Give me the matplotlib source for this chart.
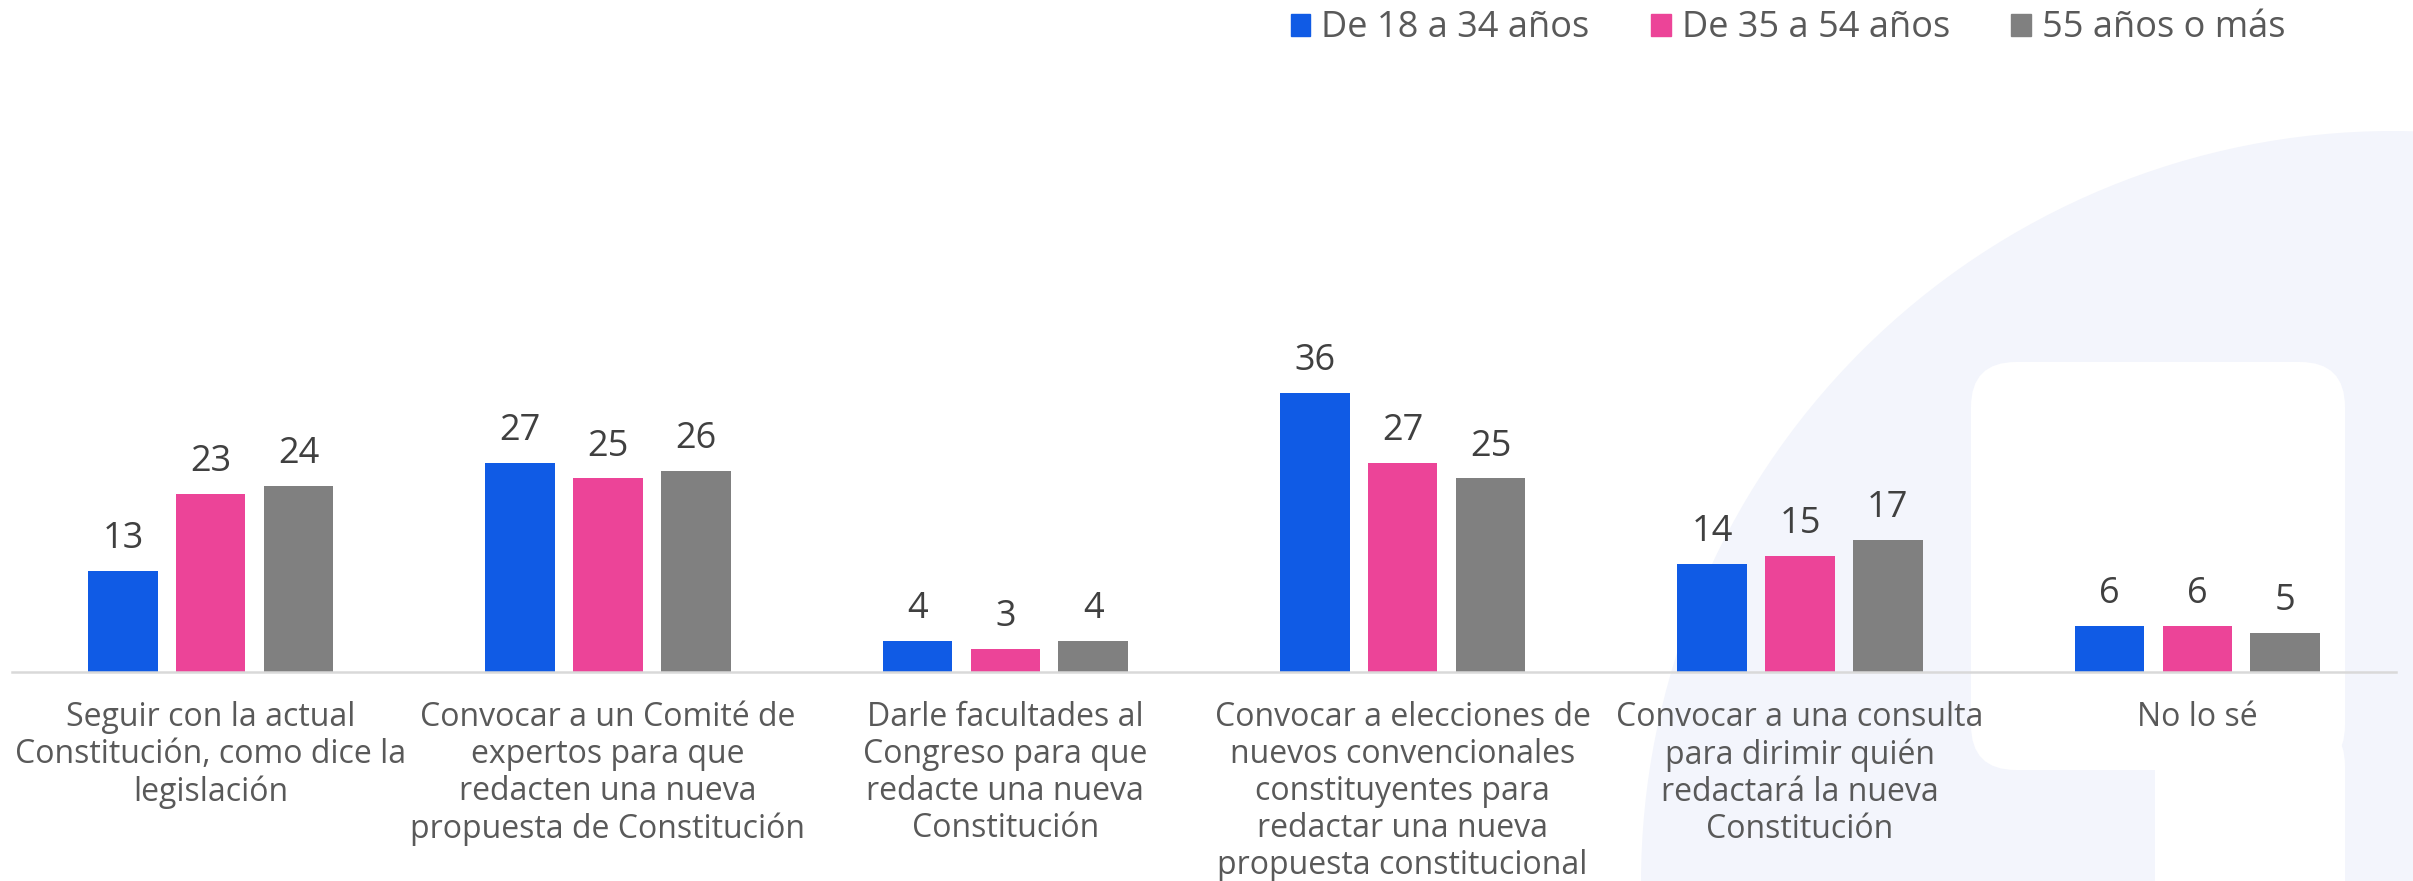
import numpy as np
import matplotlib.pyplot as plt
from matplotlib.patches import Circle, FancyBboxPatch, Rectangle

plt.rcParams['font.family'] = ['Open Sans', 'DejaVu Sans']

# ── Datos ──────────────────────────────────────────────────
categorias = [
    'Seguir con la actual\nConstitución, como dice la\nlegislación',
    'Convocar a un Comité de\nexpertos para que\nredacten una nueva\npropuesta de Constitución',
    'Darle facultades al\nCongreso para que\nredacte una nueva\nConstitución',
    'Convocar a elecciones de\nnuevos convencionales\nconstituyentes para\nredactar una nueva\npropuesta constitucional',
    'Convocar a una consulta\npara dirimir quién\nredactará la nueva\nConstitución',
    'No lo sé',
]
series = ['De 18 a 34 años', 'De 35 a 54 años', '55 años o más']
v_18_34 = [13, 27, 4, 36, 14, 6]
v_35_54 = [23, 25, 3, 27, 15, 6]
v_55_mas = [24, 26, 4, 25, 17, 5]

colores = ['#105BE5', '#EC4498', '#808080']
texto = '#404040'

W, H = 2413, 881
fig = plt.figure(figsize=(W / 100, H / 100), dpi=100)

# ── Logo de fondo ──────────────────────────────────────────
bg = fig.add_axes([0, 0, 1, 1], zorder=0)
bg.set_xlim(0, W)
bg.set_ylim(0, H)
bg.axis('off')
lavanda = '#F3F5FC'
bg.add_patch(Circle((2393, -2), 752, color=lavanda, lw=0))
bg.add_patch(FancyBboxPatch((1971, 111), 374, 408,
                            boxstyle='round,pad=0,rounding_size=45',
                            color='white', lw=0))
bg.add_patch(FancyBboxPatch((2155, -60), 190, 220,
                            boxstyle='round,pad=0,rounding_size=45',
                            color='white', lw=0))

# ── Barras ─────────────────────────────────────────────────
ax = fig.add_axes([12 / W, 209 / H, 2384 / W, 542 / H], zorder=1)
ax.patch.set_alpha(0)

x = np.arange(len(categorias))
ancho = 0.175
paso = 0.221
for i, (vals, col, nom) in enumerate(zip([v_18_34, v_35_54, v_55_mas], colores, series)):
    barras = ax.bar(x + (i - 1) * paso, vals, ancho, color=col, label=nom)
    for b, v in zip(barras, vals):
        ax.annotate(f'{v}', (b.get_x() + b.get_width() / 2, v),
                    xytext=(0, 10), textcoords='offset points',
                    ha='center', va='bottom', fontsize=26, color=texto)

ax.set_xlim(-0.5, len(categorias) - 0.5)
ax.set_ylim(0, 70)
ax.set_xticks(x)
ax.set_xticklabels(categorias, fontsize=23, color='#595959', linespacing=1.16)
ax.tick_params(axis='x', length=0, pad=21)
ax.set_yticks([])
for s in ['top', 'right', 'left']:
    ax.spines[s].set_visible(False)
ax.spines['bottom'].set_color('#D9D9D9')
ax.spines['bottom'].set_linewidth(1.8)

handles = [Rectangle((0, 0), 1, 1, color=c) for c in colores]
fig.legend(handles, series, loc='upper right', bbox_to_anchor=(2318 / W, 1.025),
           ncol=3, frameon=False, fontsize=26, handlelength=0.55, handleheight=0.55,
           handletextpad=0.3, columnspacing=1.7, labelcolor='#595959')

plt.savefig('out.png', dpi=100)
